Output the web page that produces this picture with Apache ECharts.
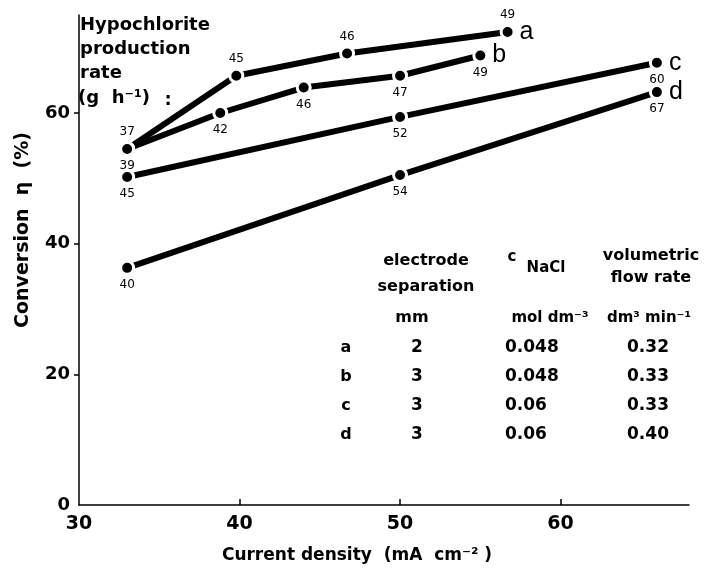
<!DOCTYPE html>
<html>
<head>
<meta charset="utf-8">
<script src="https://cdn.jsdelivr.net/npm/echarts@6/dist/echarts.min.js"></script>
<style>html,body{margin:0;padding:0;background:#fff;}#c{width:711px;height:568px;}</style>
</head>
<body>
<div id="c"></div>
<script>
// ---- data ----
const seriesNames = ['a', 'b', 'c', 'd'];
const aX = [33, 39.8, 46.7, 56.7];
const aY = [54.5, 65.7, 69.1, 72.4];
const aRate = ['37', '45', '46', '49'];
const bX = [33, 38.8, 44, 50, 55];
const bY = [54.5, 60, 63.9, 65.7, 68.8];
const bRate = ['39', '42', '46', '47', '49'];
const cX = [33, 50, 66];
const cY = [50.2, 59.4, 67.7];
const cRate = ['45', '52', '60'];
const dX = [33, 50, 66];
const dY = [36.3, 50.5, 63.2];
const dRate = ['40', '54', '67'];
const xTicks = [30, 40, 50, 60];
const yTicks = [0, 20, 40, 60];
const tableRows = ['a', 'b', 'c', 'd'];
const tableSep = ['2', '3', '3', '3'];
const tableConc = ['0.048', '0.048', '0.06', '0.06'];
const tableFlow = ['0.32', '0.33', '0.33', '0.40'];

const FONT = '"DejaVu Sans", "Liberation Sans", Arial, sans-serif';
const LFONT = '"Liberation Sans", Arial, sans-serif';
const raw = {
  a: [aX, aY, aRate, 'top'],
  b: [bX, bY, bRate, 'bottom'],
  c: [cX, cY, cRate, 'bottom'],
  d: [dX, dY, dRate, 'bottom']
};

const series = seriesNames.map(function (n) {
  const r = raw[n];
  const data = r[0].map(function (x, i) {
    return { value: [x, r[1][i]], rate: r[2][i] };
  });
  return {
    name: n,
    type: 'line',
    data: data,
    symbol: 'circle',
    symbolSize: 13,
    itemStyle: { color: '#000', borderColor: '#fff', borderWidth: 3 },
    lineStyle: { color: '#000', width: 6 },
    label: {
      show: true,
      position: r[3],
      distance: 3,
      color: '#000',
      fontFamily: FONT,
      fontSize: 12,
      formatter: function (p) { return p.data.rate; }
    },
    endLabel: {
      show: true,
      formatter: n,
      color: '#000',
      fontFamily: LFONT,
      fontSize: 25,
      distance: 12
    },
    emphasis: { disabled: true },
    animation: false
  };
});

// annotation and table texts
const g = [];
function txt(x, y, s, opts) {
  g.push({
    type: 'text', x: x, y: y, z: 10,
    style: Object.assign({
      text: s, fill: '#000', font: 'bold 16px ' + FONT,
      textAlign: 'center', textVerticalAlign: 'middle'
    }, opts || {})
  });
}
// hypochlorite annotation
txt(80, 25, 'Hypochlorite', { textAlign: 'left', font: 'bold 18px ' + FONT });
txt(80, 49, 'production', { textAlign: 'left', font: 'bold 18px ' + FONT });
txt(80, 73, 'rate', { textAlign: 'left', font: 'bold 18px ' + FONT });
txt(78, 98, '(g  h⁻¹)', { textAlign: 'left', font: 'bold 18px ' + FONT });
txt(168, 100, ':', { font: 'bold 18px ' + FONT });

// table headers
txt(426, 261, 'electrode');
txt(426, 287, 'separation');
txt(412, 318, 'mm');
txt(512, 257, 'c', { font: 'bold 15px ' + FONT });
txt(546, 268, 'NaCl', { font: 'bold 15px ' + FONT });
txt(651, 256, 'volumetric');
txt(651, 278, 'flow rate');
txt(550, 318, 'mol dm⁻³', { font: 'bold 15px ' + FONT });
txt(649, 318, 'dm³ min⁻¹', { font: 'bold 15px ' + FONT });
tableRows.forEach(function (r, i) {
  const y = 348 + i * 29;
  txt(346, y, r);
  txt(417, y, tableSep[i], { font: 'bold 17px ' + FONT });
  txt(505, y, tableConc[i], { textAlign: 'left', font: 'bold 17px ' + FONT });
  txt(648, y, tableFlow[i], { font: 'bold 17px ' + FONT });
});
// axis titles
txt(357, 556, 'Current density  (mA  cm⁻² )', { font: 'bold 17px ' + FONT });
g.push({
  type: 'text', x: 23, y: 230, rotation: Math.PI / 2, z: 10,
  style: { text: 'Conversion  η  (%)', fill: '#000', font: 'bold 19px ' + FONT,
           textAlign: 'center', textVerticalAlign: 'middle' }
});

const chart = echarts.init(document.getElementById('c'), null, { renderer: 'canvas' });
chart.setOption({
  backgroundColor: '#fff',
  animation: false,
  grid: { left: 79, right: 22, top: 15, bottom: 63, containLabel: false },
  xAxis: {
    type: 'value', min: 30, max: 68, interval: 10,
    axisLine: { show: true, lineStyle: { color: '#000', width: 1.5 } },
    axisTick: { show: true, inside: true, length: 6, customValues: [40, 50, 60], lineStyle: { color: '#000', width: 1.5 } },
    axisLabel: { customValues: xTicks, color: '#000', fontFamily: FONT, fontWeight: 'bold', fontSize: 19, margin: 10 },
    splitLine: { show: false }
  },
  yAxis: {
    type: 'value', min: 0, max: 75, interval: 20,
    axisLine: { show: true, lineStyle: { color: '#000', width: 1.5 } },
    axisTick: { show: true, inside: false, length: 5, customValues: [20, 40, 60], lineStyle: { color: '#000', width: 1.5 } },
    axisLabel: { customValues: yTicks, color: '#000', fontFamily: FONT, fontWeight: 'bold', fontSize: 18, margin: 9 },
    splitLine: { show: false }
  },
  series: series,
  graphic: g
});
</script>
</body>
</html>
